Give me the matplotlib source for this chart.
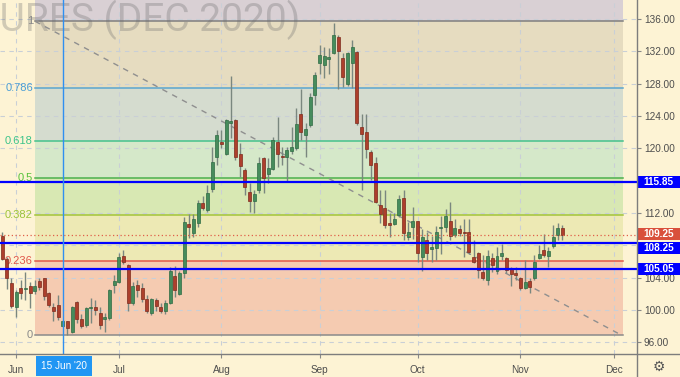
import matplotlib
matplotlib.use('Agg')
import matplotlib.pyplot as plt
from matplotlib.patches import Rectangle
from matplotlib.lines import Line2D
from matplotlib.transforms import blended_transform_factory

plt.rcParams['font.family'] = ['Liberation Sans', 'DejaVu Sans']

# ---------------- data ----------------
first_bar = -3  # bar index of first visible candle (Jun 1 = 0)
opens = [109.1, 106.3, 103.3, 100.4, 102.7, 102.55, 102.9, 102.35, 103.55, 103.9,
         102.05, 100.4, 100.55, 98.05, 98.6, 97.3, 100.95, 98.9, 98.15, 100.2,
         100.4, 99.6, 98.9, 98.95, 103.05, 103.5, 106.7, 105.55, 100.8, 103.1,
         102.65, 101.4, 99.65, 101.25, 100.4, 99.9, 100.9, 104.2, 101.95, 104.55,
         110.6, 109.55, 110.7, 113.2, 112.35, 114.9, 118.95, 120.8, 119.25, 123.1,
         123.5, 119.35, 117.3, 114.55, 113.5, 114.8, 118.85, 116.8, 117.45, 120.75,
         119.1, 118.95, 119.7, 120.05, 124.3, 121.7, 122.9, 126.65, 130.5, 130.3,
         131.0, 131.75, 133.8, 131.15, 127.95, 130.5, 131.95, 122.6, 122.05, 119.55,
         118.15, 112.98, 112.57, 110.8, 110.63, 111.75, 113.8, 109.0, 110.22, 111.0,
         106.55, 108.65, 107.5, 107.62, 110.1, 110.22, 111.04, 109.25, 110.0, 109.7,
         109.7, 106.5, 107.1, 104.7, 103.7, 106.4, 104.75, 106.7, 106.4, 105.0,
         104.6, 103.9, 102.65, 103.55, 103.9, 106.45, 107.4, 106.65, 107.9, 109.25,
         110.1]
highs = [109.6, 106.5, 103.9, 102.5, 103.7, 104.7, 103.5, 103.7, 103.9, 103.95,
         102.25, 100.8, 101.8, 98.75, 98.65, 100.5, 101.15, 99.45, 100.4, 101.5,
         101.2, 100.4, 99.6, 102.55, 104.3, 107.1, 107.35, 105.7, 103.5, 103.7,
         103.3, 101.85, 101.45, 101.45, 100.9, 101.2, 105.35, 105.45, 104.75, 111.55,
         111.85, 111.85, 113.6, 114.15, 115.45, 120.2, 122.25, 122.2, 123.6, 129.0,
         123.6, 120.6, 117.5, 115.65, 114.85, 118.95, 118.95, 118.75, 121.45, 123.9,
         120.2, 120.2, 122.65, 124.95, 127.35, 123.1, 126.8, 129.5, 132.8, 132.5,
         132.35, 135.45, 134.0, 131.75, 131.95, 133.4, 132.0, 124.3, 124.25, 119.8,
         118.95, 114.84, 114.84, 112.0, 111.95, 114.22, 114.84, 110.92, 112.78, 111.05,
         110.0, 109.68, 109.2, 110.4, 111.6, 112.5, 113.39, 111.2, 110.5, 111.2,
         111.2, 108.65, 107.2, 106.8, 107.4, 107.0, 107.8, 108.2, 106.6, 105.35,
         105.35, 104.1, 106.2, 103.9, 106.8, 108.0, 109.45, 107.75, 110.5, 110.7,
         110.5]
lows = [106.2, 102.6, 100.2, 99.1, 101.4, 101.2, 100.2, 102.0, 102.45, 101.2,
        100.4, 98.6, 98.75, 97.9, 96.9, 97.2, 98.35, 97.7, 97.9, 98.4,
        99.35, 97.6, 97.3, 98.75, 102.05, 103.35, 105.7, 99.85, 100.6, 101.65,
        101.0, 99.6, 99.35, 99.8, 99.6, 99.5, 100.75, 101.55, 101.85, 103.9,
        108.85, 109.0, 110.3, 112.3, 112.15, 114.6, 117.95, 120.0, 119.15, 121.25,
        118.55, 116.5, 114.2, 112.15, 111.95, 114.5, 114.5, 115.65, 117.3, 117.7,
        117.95, 115.85, 119.35, 119.8, 121.0, 118.95, 122.65, 125.35, 129.25, 128.65,
        129.25, 131.65, 127.3, 127.6, 127.7, 127.4, 122.9, 114.85, 118.8, 116.1,
        113.2, 110.7, 110.1, 109.06, 110.5, 111.54, 108.65, 108.65, 108.73, 105.97,
        104.8, 106.2, 105.96, 106.2, 106.9, 109.68, 108.65, 109.0, 109.2, 106.5,
        106.9, 105.75, 103.9, 103.7, 103.1, 104.7, 104.5, 106.2, 104.6, 102.9,
        103.7, 102.45, 102.6, 102.05, 103.7, 106.25, 106.6, 105.35, 107.6, 108.7,
        108.65]
closes = [106.3, 104.0, 100.5, 102.2, 102.05, 102.75, 102.05, 102.95, 102.8, 101.7,
          100.6, 99.9, 99.15, 98.6, 97.7, 100.4, 98.85, 98.0, 100.2, 100.3,
          100.0, 98.15, 99.1, 102.45, 103.6, 106.6, 105.9, 100.8, 102.9, 102.45,
          101.3, 99.9, 101.35, 100.5, 99.8, 100.9, 104.8, 102.4, 104.55, 110.9,
          110.3, 111.2, 113.25, 112.55, 114.5, 118.25, 121.65, 120.5, 123.5, 123.4,
          118.95, 117.85, 115.25, 113.5, 114.3, 118.15, 116.3, 117.5, 121.0, 119.3,
          118.9, 119.8, 120.2, 122.95, 122.05, 122.35, 126.4, 129.05, 131.55, 131.4,
          131.25, 134.0, 132.1, 128.85, 131.75, 132.55, 123.1, 121.75, 119.85, 117.95,
          113.3, 111.9, 110.5, 110.45, 111.25, 113.7, 109.56, 109.65, 111.0, 107.0,
          109.0, 107.08, 107.74, 109.6, 110.3, 111.62, 109.1, 110.1, 109.55, 109.5,
          107.2, 105.95, 104.95, 104.0, 106.65, 105.55, 106.65, 107.0, 104.95, 104.5,
          104.3, 102.65, 103.5, 102.85, 105.95, 106.9, 106.8, 107.3, 109.05, 110.1,
          109.25]

month_ticks = [0, 22, 44, 65, 86, 108, 128]
month_labels = ['Jun', 'Jul', 'Aug', 'Sep', 'Oct', 'Nov', 'Dec']
price_ticks = [96, 100, 104, 108, 112, 116, 120, 124, 128, 132, 136]
hidden_tick = 108  # covered by the price tags in the reference

fib_low, fib_high = 96.89, 135.72
fib_levels = [0, 0.236, 0.382, 0.5, 0.618, 0.786, 1]
fib_labels = ['0', '0.236', '0.382', '0.5', '0.618', '0.786', '1']
fib_start_bar, fib_end_bar = 4.07, 130.0

support_levels = [115.85, 108.25, 105.05]
last_price = 109.25
marker_bar = 10
marker_label = "15 Jun '20"
watermark = 'COFFEE C FUTURES (DEC 2020)'

# ---------------- style ----------------
W, H = 680, 377
plot_w, plot_h = 637, 354
cream = '#fdf3d4'
line_cols = ['#8a8a8a', '#e0574a', '#a3c43a', '#4cb04c', '#45c28c', '#5aa6cf', '#7f7f7f']
label_cols = ['#8a8a8a', '#e0574a', '#9cc43a', '#56c23a', '#3cc48a', '#4a9ed6', '#8a8a8a']
zone_cols = ['#f5cbb1', '#ede9b4', '#d8e8b3', '#d5e8c9', '#d5dccf', '#e6dcc0']
top_zone = '#d9d0d4'
green_body, green_edge = '#468c5c', '#2f6b43'
red_body, red_edge = '#ad3f2c', '#7e2a1c'
wick_col = '#7a877f'

fig = plt.figure(figsize=(W / 100, H / 100), dpi=100, facecolor=cream)
ax = fig.add_axes([0, (H - plot_h) / H, plot_w / W, plot_h / H])
ax.set_facecolor(cream)
ax.set_xlim(-3.43, 132.98)
ax.set_ylim(94.54, 138.35)

# fib zones
fib_prices = [fib_low + l * (fib_high - fib_low) for l in fib_levels]
for k in range(len(fib_prices) - 1):
    ax.fill_between([fib_start_bar, fib_end_bar], fib_prices[k], fib_prices[k + 1],
                    color=zone_cols[k], lw=0, zorder=1)
ax.fill_between([fib_start_bar, fib_end_bar], fib_prices[-1], 138.35,
                color=top_zone, lw=0, zorder=1)

# grid
for t in price_ticks:
    ax.axhline(t, color='#c9cfd6', lw=0.8, ls=(0, (4, 4)), zorder=1.5)
for t in month_ticks:
    ax.axvline(t, color='#c9cfd6', lw=0.8, ls=(0, (4, 4)), zorder=1.5)

# fib lines + labels
for p, lab, lc, tc in zip(fib_prices, fib_labels, line_cols, label_cols):
    ax.plot([fib_start_bar, fib_end_bar], [p, p], color=lc, lw=1.1, zorder=2)
    ax.text(fib_start_bar - 0.45, p, lab, ha='right', va='center', color=tc,
            fontsize=8, zorder=3)

# diagonal trend line of the fib tool
ax.plot([fib_start_bar, fib_end_bar - 0.4], [fib_high, fib_low], color='#8f8f8f',
        lw=1, ls=(0, (4, 4)), zorder=3)

# watermark
ax.text(300 / plot_w, (plot_h - 31.5) / plot_h, watermark, transform=ax.transAxes,
        ha='right', va='baseline', fontsize=28, family='Roboto',
        color=(0.42, 0.42, 0.42), alpha=0.3, zorder=2.5)

# candles
xs = list(range(first_bar, first_bar + len(opens)))
for x, o, h, l, c in zip(xs, opens, highs, lows, closes):
    up = c >= o
    ax.vlines(x, l, h, color=wick_col, lw=1, zorder=5)
    ax.bar(x, max(abs(c - o), 0.15), bottom=min(o, c), width=0.64,
           color=green_body if up else red_body,
           edgecolor=green_edge if up else red_edge, lw=0.5, zorder=6)

# horizontal support lines and last price
for lv in support_levels:
    ax.axhline(lv, color='#0000ff', lw=1.6, zorder=8)
ax.axhline(last_price, color='#e0604a', lw=0.9, ls=(0, (1, 2)), zorder=7)

# vertical marker
ax.axvline(marker_bar, color='#2f8ff0', lw=1, zorder=9)

# axes styling
for s in ['top', 'left', 'right', 'bottom']:
    ax.spines[s].set_visible(False)
ax.yaxis.tick_right()
ax.set_yticks(price_ticks)
ax.set_yticklabels(['' if t == hidden_tick else f'{t:.2f}' for t in price_ticks])
ax.tick_params(axis='y', length=3, width=0.8, color='#888888', labelcolor='#4d4d4d',
               labelsize=7.2, pad=2)
ax.set_xticks(month_ticks)
ax.set_xticklabels(month_labels)
ax.tick_params(axis='x', length=3, width=0.8, color='#888888', labelcolor='#4d4d4d',
               labelsize=7.2, pad=5)

# frame lines
fig.add_artist(Line2D([plot_w / W, plot_w / W], [0, 1], color='#7d7d7d', lw=1))
fig.add_artist(Line2D([0, 1], [(H - plot_h) / H] * 2, color='#7d7d7d', lw=1))

# price tags on right axis
trans = blended_transform_factory(ax.transAxes, ax.transData)
box_h = 12 / 8.08
box_w = (W - plot_w) / plot_w
tags = [(115.85, 115.85, '#0000ff'), (last_price, last_price + 0.08, '#d9503c'),
        (108.25, 107.6, '#0000ff'), (105.05, 105.0, '#0000ff')]
for val, ypos, col in tags:
    ax.add_patch(Rectangle((1.0, ypos - box_h / 2), box_w, box_h, transform=trans,
                           facecolor=col, edgecolor='none', clip_on=False, zorder=20))
    ax.text(1.0 + box_w / 2, ypos, f'{val:.2f}', transform=trans, ha='center',
            va='center', color='white', fontsize=7.2, fontweight='bold',
            clip_on=False, zorder=21)

# date marker box
fig.text(64 / W, (H - 366) / H, marker_label, ha='center', va='center', color='white',
         fontsize=7.2, bbox=dict(boxstyle='square,pad=0.5', fc='#2196f3', ec='none'))

# settings glyph
fig.text(659 / W, (H - 367) / H, '\u2699', ha='center', va='center', color='#555555',
         fontsize=10, family='DejaVu Sans')

fig.savefig('out.png', dpi=100, facecolor=cream)
